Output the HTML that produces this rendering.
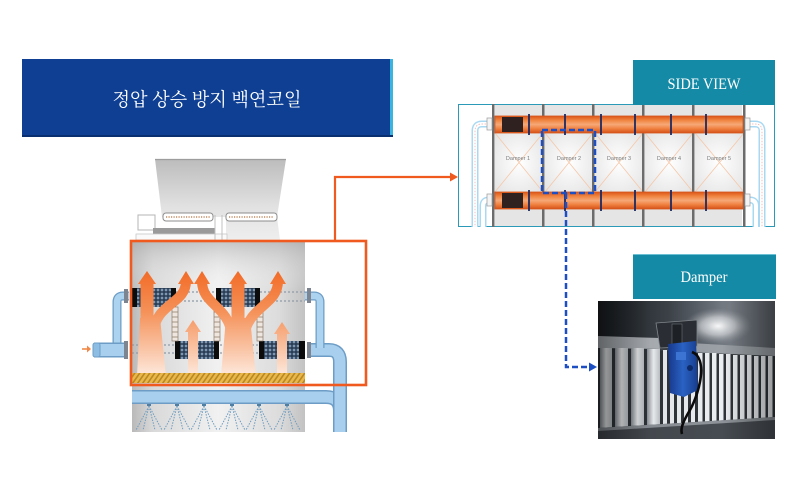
<!DOCTYPE html>
<html><head><meta charset="utf-8"><style>
html,body{margin:0;padding:0;background:#fff;}
svg{display:block}
</style></head><body>
<svg width="800" height="477" viewBox="0 0 800 477" xmlns="http://www.w3.org/2000/svg">
<defs>
 <linearGradient id="towerG" x1="132" x2="305" y1="0" y2="0" gradientUnits="userSpaceOnUse">
   <stop offset="0" stop-color="#b9b9b9"/>
   <stop offset="0.12" stop-color="#d9d9d9"/>
   <stop offset="0.5" stop-color="#f1f1f1"/>
   <stop offset="0.85" stop-color="#dcdcdc"/>
   <stop offset="1" stop-color="#c2c2c2"/>
 </linearGradient>
 <linearGradient id="towerTop" x1="0" x2="0" y1="241" y2="290" gradientUnits="userSpaceOnUse">
   <stop offset="0" stop-color="#a9a9a9" stop-opacity="0.6"/>
   <stop offset="1" stop-color="#ffffff" stop-opacity="0"/>
 </linearGradient>
 <linearGradient id="hoodG" x1="0" x2="0" y1="159" y2="240" gradientUnits="userSpaceOnUse">
   <stop offset="0" stop-color="#bcbcbc"/>
   <stop offset="0.6" stop-color="#e2e2e2"/>
   <stop offset="1" stop-color="#eeeeee"/>
 </linearGradient>
 <linearGradient id="flowG" gradientUnits="userSpaceOnUse" x1="0" y1="270" x2="0" y2="376">
   <stop offset="0" stop-color="#f26a26"/>
   <stop offset="0.4" stop-color="#f5925a"/>
   <stop offset="1" stop-color="#fde9dd"/>
 </linearGradient>
 <pattern id="coilP" width="4" height="4" patternUnits="userSpaceOnUse">
   <rect width="4" height="4" fill="#22354c"/>
   <rect x="0.7" y="0.7" width="2.6" height="2.6" fill="#7f98b2"/>
 </pattern>
 <pattern id="hatch" width="5" height="12" patternUnits="userSpaceOnUse" patternTransform="skewX(-35)">
   <rect width="5" height="12" fill="#eab84a"/>
   <rect width="2" height="12" fill="#b98a24"/>
 </pattern>
 <linearGradient id="pipeO" x1="0" x2="0" y1="0" y2="1">
   <stop offset="0" stop-color="#dc5518"/>
   <stop offset="0.25" stop-color="#f08540"/>
   <stop offset="0.5" stop-color="#f6a878"/>
   <stop offset="0.75" stop-color="#ef7f3e"/>
   <stop offset="1" stop-color="#d5521a"/>
 </linearGradient>
 <radialGradient id="panelG" cx="0.5" cy="0.5" r="0.7">
   <stop offset="0" stop-color="#ffffff"/>
   <stop offset="1" stop-color="#e3e3e3"/>
 </radialGradient>
 <linearGradient id="phTop" x1="598" x2="775" y1="0" y2="0" gradientUnits="userSpaceOnUse">
   <stop offset="0" stop-color="#1b1f23"/>
   <stop offset="0.4" stop-color="#3e444b"/>
   <stop offset="0.75" stop-color="#7b8189"/>
   <stop offset="1" stop-color="#5b6168"/>
 </linearGradient>
 <radialGradient id="glow" cx="0.5" cy="0.5" r="0.5">
   <stop offset="0" stop-color="#ffffff" stop-opacity="0.95"/>
   <stop offset="0.5" stop-color="#e6e9ec" stop-opacity="0.6"/>
   <stop offset="1" stop-color="#9aa0a6" stop-opacity="0"/>
 </radialGradient>
 <linearGradient id="slatG" x1="0" x2="1" y1="0" y2="0">
   <stop offset="0" stop-color="#8f959c"/>
   <stop offset="0.5" stop-color="#f3f5f7"/>
   <stop offset="1" stop-color="#c0c5ca"/>
 </linearGradient>
 <linearGradient id="phShade" x1="598" x2="775" y1="0" y2="0" gradientUnits="userSpaceOnUse">
   <stop offset="0" stop-color="#000" stop-opacity="0.45"/>
   <stop offset="0.3" stop-color="#000" stop-opacity="0.05"/>
   <stop offset="0.7" stop-color="#000" stop-opacity="0"/>
   <stop offset="1" stop-color="#000" stop-opacity="0.35"/>
 </linearGradient>
 <linearGradient id="actG" x1="0" x2="1" y1="0" y2="0">
   <stop offset="0" stop-color="#16388a"/>
   <stop offset="0.5" stop-color="#2a62c4"/>
   <stop offset="1" stop-color="#173c8c"/>
 </linearGradient>
 <clipPath id="phc"><rect x="598" y="301" width="177" height="138"/></clipPath>
</defs>

<!-- Title -->
<rect x="22" y="59" width="369" height="78" fill="#0e3f92"/>
<rect x="390" y="59" width="3" height="78" fill="#3cb4e0"/>
<rect x="22" y="135" width="371" height="2" fill="#0a2f70"/>
<text x="207" y="106" text-anchor="middle" font-family="'Liberation Serif','Noto Serif CJK SC',serif" font-size="18.5" fill="#ffffff" textLength="189" lengthAdjust="spacingAndGlyphs">정압 상승 방지 백연코일</text>

<!-- Hood -->
<polygon points="155,159 286,159 277,217 280,240 226,240 226,217 162,217" fill="url(#hoodG)"/>
<line x1="155" y1="159.5" x2="286" y2="159.5" stroke="#9d9d9d" stroke-width="1.2"/>
<rect x="138" y="215" width="17" height="15" fill="#fff" stroke="#b5b5b5" stroke-width="1"/>
<rect x="153" y="228" width="62" height="6" fill="#9a9a9a"/>
<rect x="136" y="234" width="91" height="6" fill="#fafafa" stroke="#c8c8c8" stroke-width="0.8"/>
<line x1="215" y1="215" x2="215" y2="240" stroke="#c0c0c0" stroke-width="1"/>
<line x1="222" y1="215" x2="222" y2="240" stroke="#c0c0c0" stroke-width="1"/>
<rect x="163" y="213" width="50" height="8" rx="3" fill="#fff" stroke="#8d8d8d" stroke-width="1"/>
<rect x="226" y="213" width="51" height="8" rx="3" fill="#fff" stroke="#8d8d8d" stroke-width="1"/>
<line x1="166" y1="217" x2="210" y2="217" stroke="#c08a60" stroke-width="1.5" stroke-dasharray="1.2 1.3"/>
<line x1="229" y1="217" x2="274" y2="217" stroke="#c08a60" stroke-width="1.5" stroke-dasharray="1.2 1.3"/>

<!-- Tower body -->
<rect x="132" y="241" width="173" height="191" fill="url(#towerG)"/>
<rect x="132" y="241" width="173" height="50" fill="url(#towerTop)"/>

<!-- dotted pipe lines -->
<g stroke="#8f9aa6" stroke-width="1.2" stroke-dasharray="2 2">
 <line x1="132" y1="292" x2="305" y2="292"/>
 <line x1="132" y1="301" x2="305" y2="301"/>
 <line x1="132" y1="345" x2="305" y2="345"/>
 <line x1="132" y1="353" x2="305" y2="353"/>
</g>

<!-- coils -->
<g>
 <rect x="132" y="288" width="44" height="19" fill="url(#coilP)"/>
 <rect x="132" y="288" width="5" height="19" fill="#0c0c0c"/><rect x="171" y="288" width="5" height="19" fill="#0c0c0c"/>
 <rect x="216" y="288" width="44" height="19" fill="url(#coilP)"/>
 <rect x="216" y="288" width="5" height="19" fill="#0c0c0c"/><rect x="255" y="288" width="5" height="19" fill="#0c0c0c"/>
 <rect x="175" y="341" width="44" height="18" fill="url(#coilP)"/>
 <rect x="175" y="341" width="5" height="18" fill="#0c0c0c"/><rect x="214" y="341" width="5" height="18" fill="#0c0c0c"/>
 <rect x="259" y="341" width="46" height="18" fill="url(#coilP)"/>
 <rect x="259" y="341" width="5" height="18" fill="#0c0c0c"/><rect x="299" y="341" width="6" height="18" fill="#0c0c0c"/>
</g>
<!-- ladders -->
<g fill="#efe7df" stroke="#8c7a6a" stroke-width="0.7">
 <rect x="172" y="307" width="6" height="34"/>
 <rect x="214" y="307" width="6" height="34"/>
 <rect x="257" y="307" width="6" height="34"/>
</g>
<g stroke="#8c7a6a" stroke-width="0.7">
 <path d="M172,312h6M172,317h6M172,322h6M172,327h6M172,332h6M172,337h6"/>
 <path d="M214,312h6M214,317h6M214,322h6M214,327h6M214,332h6M214,337h6"/>
 <path d="M257,312h6M257,317h6M257,322h6M257,327h6M257,332h6M257,337h6"/>
</g>

<!-- orange flows -->
<g fill="none" stroke="url(#flowG)">
 <path d="M147,376 L147,281" stroke-width="13"/>
 <path d="M153,335 C155,302 186,305 186,281" stroke-width="10"/>
 <path d="M193,376 L193,330" stroke-width="10"/>
 <path d="M232,335 C228,305 202,305 202,281" stroke-width="10"/>
 <path d="M238,376 L238,281" stroke-width="13"/>
 <path d="M244,335 C250,305 278,305 278,281" stroke-width="10"/>
 <path d="M282,376 L282,332" stroke-width="10"/>
</g>
<g fill="url(#flowG)">
 <polygon points="137,376 166,376 160,318 140,318"/>
 <polygon points="221,376 256,376 250,318 226,318"/>
 <polygon points="138,284 147,271 156,284"/>
 <polygon points="178,284 186,271 194,284"/>
 <polygon points="194,284 202,271 210,284"/>
 <polygon points="229,284 238,271 247,284"/>
 <polygon points="270,284 278,271 286,284"/>
 <polygon points="185,332 193,320 201,332"/>
 <polygon points="274,334 282,322 290,334"/>
</g>

<!-- hatch band -->
<rect x="132" y="373" width="173" height="10" fill="url(#hatch)"/>

<!-- sprays -->
<g stroke="#6f9cbf" stroke-width="1" stroke-dasharray="1.5 1.3" fill="none">
 <path d="M149,406 L136,430 M149,406 L162,430 M149,406 L143,430 M149,406 L155,430"/>
 <path d="M177,406 L164,430 M177,406 L190,430 M177,406 L171,430 M177,406 L183,430"/>
 <path d="M204,406 L191,430 M204,406 L217,430 M204,406 L198,430 M204,406 L210,430"/>
 <path d="M232,406 L219,430 M232,406 L245,430 M232,406 L226,430 M232,406 L238,430"/>
 <path d="M259,406 L246,430 M259,406 L272,430 M259,406 L253,430 M259,406 L265,430"/>
 <path d="M287,406 L274,430 M287,406 L300,430 M287,406 L281,430 M287,406 L293,430"/>
</g>
<g fill="#4f7fa3">
 <rect x="147" y="403" width="4" height="3"/><rect x="175" y="403" width="4" height="3"/>
 <rect x="202" y="403" width="4" height="3"/><rect x="230" y="403" width="4" height="3"/>
 <rect x="257" y="403" width="4" height="3"/><rect x="285" y="403" width="4" height="3"/>
</g>

<!-- blue pipes -->
<g fill="none" stroke-linecap="butt">
 <path d="M132,397 L326,397 Q340,397 340,411" stroke="#6d9dc6" stroke-width="14"/>
 <path d="M132,397 L326,397 Q340,397 340,411" stroke="#a8d0ee" stroke-width="11"/>
 <path d="M311,350 L329,350 Q340,350 340,362 L340,432" stroke="#6d9dc6" stroke-width="14"/>
 <path d="M311,350 L329,350 Q340,350 340,362 L340,432" stroke="#a8d0ee" stroke-width="11"/>
 <path d="M305,296 L314,296 Q320,296 320,302 L320,348" stroke="#6d9dc6" stroke-width="9"/>
 <path d="M305,296 L314,296 Q320,296 320,302 L320,348" stroke="#acd3ef" stroke-width="6.5"/>
 <path d="M129,296 L123,296 Q117,296 117,302 L117,345" stroke="#6d9dc6" stroke-width="9"/>
 <path d="M129,296 L123,296 Q117,296 117,302 L117,345" stroke="#acd3ef" stroke-width="6.5"/>
 <path d="M94,350 L126,350" stroke="#6d9dc6" stroke-width="15"/>
 <path d="M94,350 L126,350" stroke="#a8d0ee" stroke-width="12"/>
</g>
<rect x="93" y="343" width="7" height="14" rx="2" fill="#8dbde2" stroke="#6d9dc6" stroke-width="1"/>
<g fill="#7c8590">
 <rect x="124" y="289" width="4" height="14"/>
 <rect x="124" y="341" width="4" height="18"/>
 <rect x="307" y="288" width="4" height="15"/>
 <rect x="307" y="342" width="4" height="16"/>
</g>
<!-- inlet small arrow -->
<line x1="82" y1="349" x2="89" y2="349" stroke="#f08a4a" stroke-width="1.6"/>
<polygon points="87,345.5 91,349 87,352.5" fill="#f08a4a"/>

<!-- orange highlight rect and connector -->
<rect x="131" y="241" width="235" height="144" fill="none" stroke="#f05a1e" stroke-width="2.6"/>
<path d="M335,241 L335,177 L452,177" fill="none" stroke="#f05a1e" stroke-width="2.2"/>
<polygon points="450,172.5 458,177 450,181.5" fill="#f05a1e"/>

<!-- SIDE VIEW frame -->
<rect x="458.5" y="104.5" width="316" height="122" fill="#fff" stroke="#2a9ab8" stroke-width="1"/>
<!-- bays -->
<g>
 <rect x="495" y="105" width="247" height="11" fill="#e5e5e5"/>
 <rect x="495" y="209" width="247" height="17" fill="#e5e5e5"/>
 <rect x="495" y="133" width="48" height="59" fill="url(#panelG)"/>
 <rect x="545" y="133" width="48" height="59" fill="url(#panelG)"/>
 <rect x="595" y="133" width="48" height="59" fill="url(#panelG)"/>
 <rect x="645" y="133" width="48" height="59" fill="url(#panelG)"/>
 <rect x="695" y="133" width="49" height="59" fill="url(#panelG)"/>
</g>
<g stroke="#f6c7a8" stroke-width="0.8">
 <path d="M495,133 L543,192 M543,133 L495,192"/>
 <path d="M545,133 L593,192 M593,133 L545,192"/>
 <path d="M595,133 L643,192 M643,133 L595,192"/>
 <path d="M645,133 L693,192 M693,133 L645,192"/>
 <path d="M695,133 L744,192 M744,133 L695,192"/>
</g>
<g font-family="'Liberation Sans',sans-serif" font-size="5.5" fill="#7a7a7a" text-anchor="middle">
 <text x="518" y="160">Damper 1</text>
 <text x="569" y="160">Damper 2</text>
 <text x="619" y="160">Damper 3</text>
 <text x="669" y="160">Damper 4</text>
 <text x="719" y="160">Damper 5</text>
</g>
<!-- posts -->
<g fill="#6c6c6c">
 <rect x="492" y="104" width="2.5" height="123"/>
 <rect x="542" y="104" width="2.5" height="123"/>
 <rect x="592" y="104" width="2.5" height="123"/>
 <rect x="642" y="104" width="2.5" height="123"/>
 <rect x="692" y="104" width="2.5" height="123"/>
 <rect x="743" y="104" width="2.5" height="123"/>
</g>
<!-- orange pipes -->
<rect x="495" y="116" width="248" height="17" fill="url(#pipeO)" stroke="#d4541a" stroke-width="0.8"/>
<rect x="495" y="192" width="248" height="17" fill="url(#pipeO)" stroke="#d4541a" stroke-width="0.8"/>
<rect x="502" y="117" width="21" height="15" fill="#2e2120"/>
<rect x="502" y="193" width="21" height="15" fill="#2e2120"/>
<g stroke="#1b2a63" stroke-width="1.8">
 <path d="M529,114V135M565,114V135M601,114V135M635,114V135M671,114V135M706,114V135"/>
 <path d="M529,190V211M565,190V211M601,190V211M635,190V211M671,190V211M706,190V211"/>
</g>
<!-- light blue side pipes -->
<g fill="none">
 <path d="M489,124 L482,124 Q475,124 475,131 L475,227" stroke="#a9d9f2" stroke-width="7"/>
 <path d="M489,124 L482,124 Q475,124 475,131 L475,227" stroke="#fff" stroke-width="4"/>
 <path d="M489,124 L482,124 Q475,124 475,131 L475,227" stroke="#f2b0b0" stroke-width="0.8" stroke-dasharray="1.5 1.5"/>
 <path d="M489,200 L489,200 Q483,200 483,206 L483,227" stroke="#a9d9f2" stroke-width="7"/>
 <path d="M489,200 L489,200 Q483,200 483,206 L483,227" stroke="#fff" stroke-width="4"/>
 <path d="M749,124 L755,124 Q762,124 762,131 L762,227" stroke="#a9d9f2" stroke-width="7"/>
 <path d="M749,124 L755,124 Q762,124 762,131 L762,227" stroke="#fff" stroke-width="4"/>
 <path d="M749,124 L755,124 Q762,124 762,131 L762,227" stroke="#f2b0b0" stroke-width="0.8" stroke-dasharray="1.5 1.5"/>
 <path d="M749,200 L750,200 Q756,200 756,206 L756,227" stroke="#a9d9f2" stroke-width="7"/>
 <path d="M749,200 L750,200 Q756,200 756,206 L756,227" stroke="#fff" stroke-width="4"/>
</g>
<g fill="#f4f4f4" stroke="#9a9a9a" stroke-width="0.7">
 <rect x="487" y="118" width="5" height="12"/>
 <rect x="487" y="194" width="5" height="12"/>
 <rect x="745" y="118" width="5" height="12"/>
 <rect x="745" y="194" width="5" height="12"/>
</g>

<!-- SIDE VIEW label -->
<rect x="633" y="60" width="142" height="45" fill="#148aa6"/>
<text x="704" y="89" text-anchor="middle" font-family="'Liberation Serif',serif" font-size="16" fill="#ffffff" textLength="73" lengthAdjust="spacingAndGlyphs">SIDE  VIEW</text>

<!-- blue dashed highlight -->
<rect x="542" y="130" width="53" height="63" fill="none" stroke="#1e4fc2" stroke-width="2.5" stroke-dasharray="6 3"/>
<path d="M566,193 L566,367 L590,367" fill="none" stroke="#1e4fc2" stroke-width="2.5" stroke-dasharray="6 3"/>
<polygon points="589,362.5 597,367 589,371.5" fill="#1e4fc2"/>

<!-- Damper label -->
<rect x="633" y="254" width="143" height="45" fill="#148aa6"/>
<rect x="633" y="254" width="143" height="1" fill="#6cc0d4"/>
<text x="704" y="282" text-anchor="middle" font-family="'Liberation Serif',serif" font-size="16" fill="#ffffff" textLength="47" lengthAdjust="spacingAndGlyphs">Damper</text>

<!-- Photo -->
<g clip-path="url(#phc)">
 <rect x="598" y="301" width="177" height="138" fill="#2d3237"/>
 <rect x="598" y="301" width="177" height="50" fill="url(#phTop)"/>
 <ellipse cx="718" cy="326" rx="34" ry="18" fill="url(#glow)"/>
 <polygon points="598,336 660,338 660,349 598,348" fill="#aeb3b8"/>
 <polygon points="690,343 775,348 775,357 690,353" fill="#9aa0a6"/>
 <polygon points="598,348 775,356 775,421 598,432" fill="#30353a"/>
 <g fill="url(#slatG)">
  <rect x="600" y="348" width="12" height="83"/>
  <rect x="615" y="348" width="13" height="83"/>
  <rect x="631" y="348" width="13" height="83"/>
  <rect x="647" y="349" width="13" height="81"/>
 </g>
 <g fill="#eceff2">
  <rect x="663" y="350" width="4" height="77"/>
  <rect x="670" y="351" width="4" height="76"/>
  <rect x="677" y="351" width="4" height="75"/>
  <rect x="684" y="352" width="4" height="74"/>
  <rect x="691" y="352" width="4" height="73"/>
  <rect x="698" y="353" width="4.5" height="72"/>
  <rect x="705" y="353" width="4.5" height="71"/>
  <rect x="712" y="353" width="4.5" height="70"/>
  <rect x="719" y="354" width="4.5" height="69"/>
  <rect x="726" y="354" width="4.5" height="68"/>
  <rect x="733" y="355" width="4.5" height="67"/>
  <rect x="740" y="355" width="4.5" height="66"/>
  <rect x="747" y="355" width="4.5" height="65"/>
  <rect x="754" y="356" width="4.5" height="64"/>
  <rect x="761" y="356" width="4.5" height="64"/>
  <rect x="768" y="356" width="4.5" height="64"/>
 </g>
 <polygon points="598,428 775,417 775,439 598,439" fill="#474c52"/>
 <polygon points="598,428 775,417 775,420 598,431" fill="#8d9399"/>
 <rect x="598" y="301" width="177" height="138" fill="url(#phShade)"/>
 <!-- bracket -->
 <polygon points="656,323 697,320 697,346 660,348" fill="#2a2e34" stroke="#80868c" stroke-width="0.8"/>
 <rect x="672" y="324" width="10" height="20" fill="#1d2126" stroke="#6a7076" stroke-width="0.6"/>
 <!-- actuator -->
 <polygon points="668,344 696,341 698,390 684,397 670,393" fill="url(#actG)"/>
 <rect x="676" y="352" width="10" height="8" fill="#3c74d4"/>
 <circle cx="690" cy="368" r="3" fill="#0e2a66"/>
 <path d="M692,352 C708,358 700,392 690,410 C684,420 680,428 682,434" fill="none" stroke="#0b0b0b" stroke-width="2.6"/>
</g>
</svg>
</body></html>
